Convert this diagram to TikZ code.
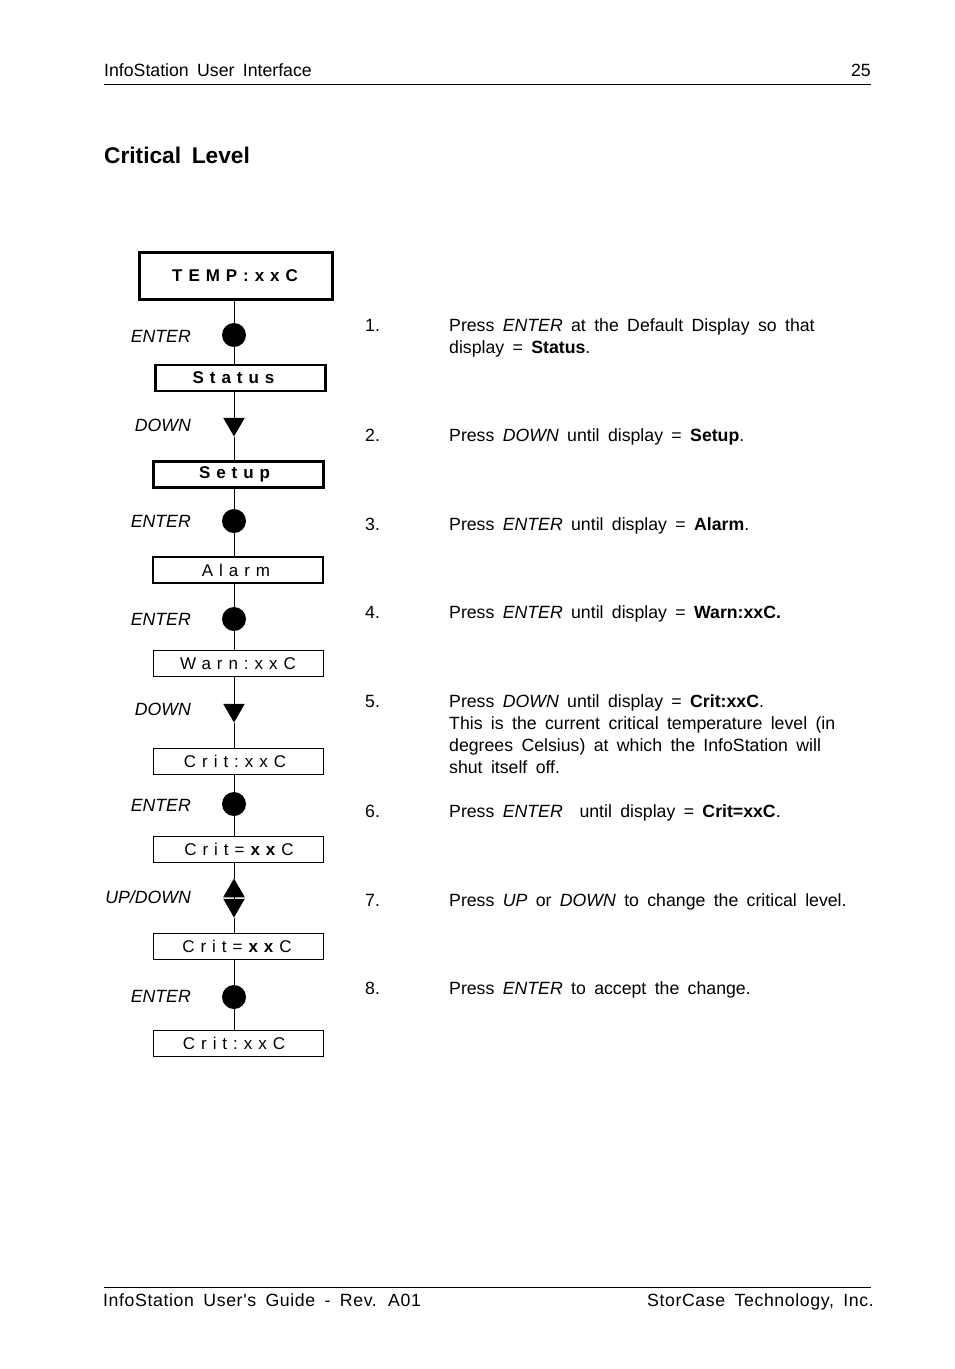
\documentclass[tikz,border=0pt]{standalone}
\usepackage{fontspec}
\setmainfont{Liberation Sans}[WordSpace=1.7]
\newfontfamily\lcdfont[LetterSpace=35]{Liberation Sans}
\newfontfamily\footfont[LetterSpace=3.5,WordSpace=1.7]{Liberation Sans}
\usetikzlibrary{positioning,shapes.geometric}
\newcommand{\txt}{\fontsize{17.7}{22}\selectfont}
\newcommand{\steplines}[1]{\begin{tabular}[t]{@{}l@{}}#1\end{tabular}}
\tikzset{
  disp/.style  ={draw, line width=1pt, minimum width=170pt, minimum height=26pt,
                 inner sep=0pt, outer sep=0pt, font=\lcdfont\fontsize{17}{20}\selectfont},
  dispm/.style ={disp, line width=2.2pt},
  dispt/.style ={disp, line width=3pt, minimum width=193pt, minimum height=47pt},
  key/.style   ={circle, fill=black, minimum size=24pt, inner sep=0pt, outer sep=0pt},
  keydn/.style ={regular polygon, regular polygon sides=3, shape border rotate=180,
                 fill=black, minimum size=25pt, inner sep=0pt, outer sep=0pt},
  keyup/.style ={regular polygon, regular polygon sides=3,
                 fill=black, minimum size=25pt, inner sep=0pt, outer sep=0pt},
  wire/.style  ={line width=1pt},
  keytag/.style={anchor=east, inner sep=0pt, font=\itshape\txt},
  num/.style   ={anchor=base west, inner sep=0pt, font=\txt},
  body/.style  ={anchor=base west, inner sep=0pt, font=\txt},
  rule/.style  ={line width=1pt}
}

\begin{document}
\begin{tikzpicture}[x=1pt,y=-1pt]
\useasboundingbox (0,0) rectangle (954,1369);

\node[anchor=base west, inner sep=0pt, font=\txt] (head) at (104,76)
  {InfoStation User Interface};
\node[anchor=base east, inner sep=0pt, font=\txt] (page) at (871,76) {25};
\draw[rule] (104,84) -- (871,84);
\node[anchor=base west, inner sep=0pt, font=\bfseries\fontsize{22.7}{26}\selectfont]
  (title) at (104,163) {Critical Level};

\node[dispt] (temp)    at (235.5,275.5) {\hspace*{5pt}\textbf{TEMP:xxC}};
\node[dispm] (status)  at (240.5,378)   {\hspace*{-8pt}\textbf{Status}};
\node[dispm] (setup)   at (238.5,474.5) {\hspace*{-2pt}\textbf{Setup}};
\node[dispm] (alarm)   at (238,570)     {\hspace*{-4pt}Alarm};
\node[disp]  (warn)    at (238,663.5)   {Warn:xxC};
\node[disp]  (crit)    at (238,761)     {\hspace*{-6pt}Crit:xxC};
\node[disp]  (critset) at (238,849)     {\hspace*{2pt}Crit=\textbf{xx}C};
\node[disp]  (critnew) at (238,946)     {\hspace*{-2pt}Crit=\textbf{xx}C};
\node[disp]  (critend) at (238,1043)    {\hspace*{-8pt}Crit:xxC};

\node[key]   (k1) at (234,335)   {};
\node[keydn] (k2) at (234,424)   {};
\node[key]   (k3) at (234,521)   {};
\node[key]   (k4) at (234,619)   {};
\node[keydn] (k5) at (234,710)   {};
\node[key]   (k6) at (234,804)   {};
\node[keyup] (k7) at (234,891)   {};
\node[keydn] (k8) at (234,905)   {};
\node[key]   (k9) at (234,997)   {};

\foreach \a/\m/\b in {temp/k1/status, status/k2/setup, setup/k3/alarm,
                      alarm/k4/warn, warn/k5/crit, crit/k6/critset,
                      critnew/k9/critend}
  \draw[wire] (\a.south -| \m) -- (\m) -- (\b.north -| \m);
\draw[wire] (critset.south -| k7) -- (k7) -- (k8) -- (critnew.north -| k8);

\node[keytag] (t1) at (191,336) {ENTER};
\node[keytag] (t2) at (191,425) {DOWN};
\node[keytag] (t3) at (191,521) {ENTER};
\node[keytag] (t4) at (191,619) {ENTER};
\node[keytag] (t5) at (191,709) {DOWN};
\node[keytag] (t6) at (191,805) {ENTER};
\node[keytag] (t7) at (191,897) {UP/DOWN};
\node[keytag] (t8) at (191,996) {ENTER};

\node[num] (n1) at (365,331) {1.};
\node[body] (s1) at (449,331) {\steplines{%
  Press \textit{ENTER} at the Default Display so that\\
  display = \textbf{Status}.}};
\node[num] (n2) at (365,441) {2.};
\node[body] (s2) at (449,441)
  {Press \textit{DOWN} until display = \textbf{Setup}.};
\node[num] (n3) at (365,530) {3.};
\node[body] (s3) at (449,530)
  {Press \textit{ENTER} until display = \textbf{Alarm}.};
\node[num] (n4) at (365,618) {4.};
\node[body] (s4) at (449,618)
  {Press \textit{ENTER} until display = \textbf{Warn:xxC.}};
\node[num] (n5) at (365,707) {5.};
\node[body] (s5) at (449,707) {\steplines{%
  Press \textit{DOWN} until display = \textbf{Crit:xxC}.\\
  This is the current critical temperature level (in\\
  degrees Celsius) at which the InfoStation will\\
  shut itself off.}};
\node[num] (n6) at (365,817) {6.};
\node[body] (s6) at (449,817)
  {Press \textit{ENTER}\ \ until display = \textbf{Crit=xxC}.};
\node[num] (n7) at (365,906) {7.};
\node[body] (s7) at (449,906)
  {Press \textit{UP} or \textit{DOWN} to change the critical level.};
\node[num] (n8) at (365,994) {8.};
\node[body] (s8) at (449,994)
  {Press \textit{ENTER} to accept the change.};

\draw[rule] (104,1287) -- (871,1287);
\node[anchor=base west, inner sep=0pt, font=\footfont\txt] (foot) at (103,1306)
  {InfoStation User's Guide - Rev. A01};
\node[anchor=base east, inner sep=0pt, font=\footfont\txt] (maker) at (874,1306)
  {StorCase Technology, Inc.};
\end{tikzpicture}
\end{document}
